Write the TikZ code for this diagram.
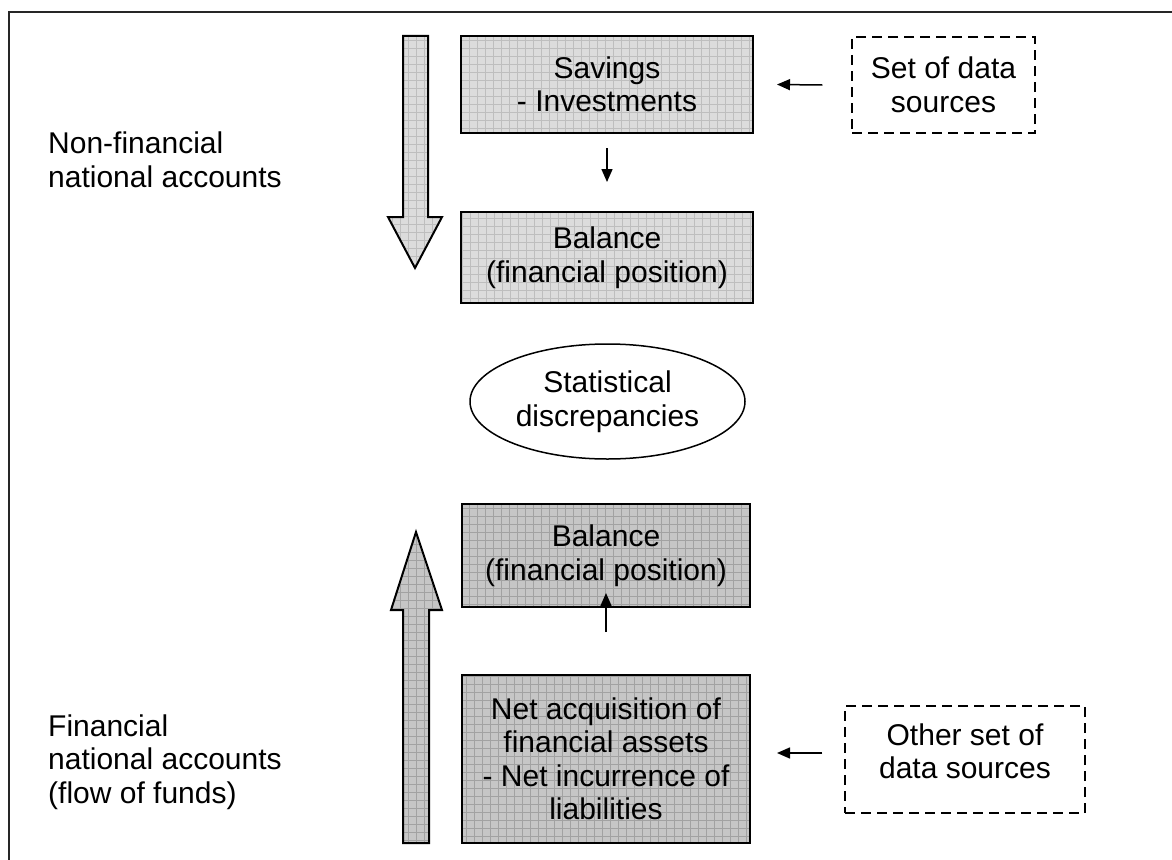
\documentclass[tikz,border=0pt]{standalone}
\usepackage{fontspec}
\setmainfont{Liberation Sans}
\usetikzlibrary{arrows.meta,shapes.geometric}
\definecolor{lightfill}{HTML}{DCDCDC}
\definecolor{lightline}{HTML}{BEBEBE}
\definecolor{darkfill}{HTML}{C6C6C6}
\definecolor{darkline}{HTML}{A2A2A2}
\tikzset{
  lightgrid/.style={fill=lightfill, path picture={\draw[lightline, line width=0.5pt] (path picture bounding box.south west) grid[step=8pt] (path picture bounding box.north east);}},
  darkgrid/.style={fill=darkfill, path picture={\draw[darkline, line width=0.5pt] (path picture bounding box.south west) grid[step=8pt] (path picture bounding box.north east);}},
  txt/.style={font=\fontsize{30}{33.5}\selectfont, align=center, inner sep=0pt},
  box/.style={txt, draw=black, line width=2pt},
  srcbox/.style={draw=black, line width=1.5pt, dash pattern=on 10pt off 6pt, inner sep=0pt},
  conn/.style={line width=1.5pt, -{Triangle[length=13pt,width=11pt]}},
  bigarrow/.style={draw=black, line width=2pt, line join=miter},
  frameline/.style={line width=2pt, draw=black!85}
}
\begin{document}
\begin{tikzpicture}[x=1pt,y=-1pt]
\useasboundingbox (0,0) rectangle (1172,859);
% frame
\draw[frameline] (9,880) -- (9,12) -- (1190,12);
% big arrows
\path[bigarrow, lightgrid] (403,36) -- (428,36) -- (428,217) -- (442,217) -- (415,268) -- (388,217) -- (403,217) -- cycle;
\path[bigarrow, darkgrid] (403,843) -- (429,843) -- (429,610) -- (442,610) -- (416,532) -- (391,610) -- (403,610) -- cycle;
% boxes
\node[box, lightgrid, minimum width=292pt, minimum height=97pt] (sav) at (607,84.5) {Savings\\- Investments};
\node[box, lightgrid, minimum width=292pt, minimum height=91pt] (bal1) at (607,257.5) {Balance\\(financial position)};
\node[txt, draw=black, line width=1.5pt, ellipse, inner sep=0pt, minimum width=275pt, minimum height=115pt] (disc) at (607.5,401.5) {Statistical\\discrepancies};
\node[box, darkgrid, minimum width=288pt, minimum height=103pt] (bal2) at (606,555.5) {Balance\\(financial position)};
\node[box, darkgrid, minimum width=288pt, minimum height=168pt] (net) at (606,759) {Net acquisition of\\financial assets\\- Net incurrence of\\liabilities};
% data sources
\node[srcbox, txt, minimum width=183pt, minimum height=96pt] (src1) at (943.5,85) {Set of data\\sources};
\node[srcbox, minimum width=240pt, minimum height=107pt] (src2) at (965,759.5) {};
\node[txt] (src2t) at ([yshift=8pt]src2.center) {Other set of\\data sources};
% side labels
\node[txt, align=left, anchor=west] (nfin) at (48,160) {Non-financial\\national accounts};
\node[txt, align=left, anchor=west] (fin) at (48,762) {Financial\\national accounts\\(flow of funds)};
% connectors
\draw[conn] ([yshift=-14pt]sav.south) -- ([yshift=29pt]bal1.north);
\draw[conn] ([xshift=-29pt]src1.west) -- ([xshift=23pt]sav.east);
\draw[conn] ([yshift=42pt]net.north) -- ([yshift=15pt]bal2.south);
\draw[conn] ([xshift=-22pt,yshift=6.5pt]src2.west) -- ([xshift=26pt,yshift=6pt]net.east);
\end{tikzpicture}
\end{document}
